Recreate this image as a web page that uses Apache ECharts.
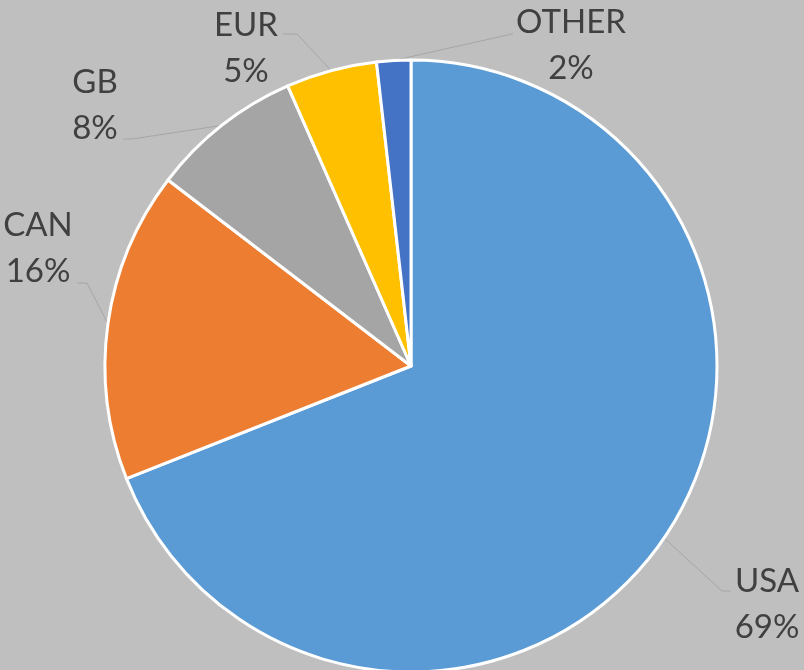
<!DOCTYPE html>
<html>
<head>
<meta charset="utf-8">
<script src="https://cdn.jsdelivr.net/npm/echarts@6/dist/echarts.min.js"></script>
<style>
  html, body { margin: 0; padding: 0; background: #bfbfbf; }
  #chart { width: 804px; height: 670px; }
</style>
</head>
<body>
<div id="chart"></div>
<script>
// 数据
var categories = ['USA', 'CAN', 'GB', 'EUR', 'OTHER'];
var shares = [69.0, 16.4, 8.0, 4.8, 1.8];
var colors = ['#5b9bd5', '#ed7d31', '#a5a5a5', '#ffc000', '#4472c4'];

// 标签位置 (Excel 式手动摆放)
var labelPos = [[767, 604], [38, 248], [95, 105], [246, 48], [571, 45]];
var lineBend = [[722, 591], [87, 283], [132, 139], [297, 34], [512, 34]];
var lineEnd = [[731, 591], [77, 283], [123, 139], [283, 34], [513, 34]];

(function () {
    var myChart = echarts.init(document.getElementById('chart'));
    var option = {
        backgroundColor: '#bfbfbf',
        color: colors,
        series: [
            {
                type: 'pie',
                center: [411, 366],
                radius: 306,
                startAngle: 90,
                avoidLabelOverlap: false,
                percentPrecision: 0,
                data: categories.map(function (c, i) {
                    return { name: c, value: shares[i] };
                }),
                itemStyle: {
                    borderColor: '#ffffff',
                    borderWidth: 3
                },
                label: {
                    position: 'outside',
                    formatter: '{b}\n{d}%',
                    color: '#404040',
                    fontFamily: 'Lato',
                    fontSize: 33,
                    lineHeight: 46,
                    align: 'center'
                },
                labelLine: {
                    show: true,
                    length: 20,
                    length2: 10,
                    lineStyle: {
                        color: '#a6a6a6',
                        width: 1
                    }
                },
                labelLayout: function (params) {
                    var i = params.dataIndex;
                    var start = params.labelLinePoints ? params.labelLinePoints[0] : lineBend[i];
                    return {
                        x: labelPos[i][0],
                        y: labelPos[i][1],
                        align: 'center',
                        verticalAlign: 'middle',
                        labelLinePoints: [start, lineBend[i], lineEnd[i]]
                    };
                }
            }
        ]
    };
    myChart.setOption(option);
    window.addEventListener('resize', function () {
        myChart.resize();
    });
})();
</script>
</body>
</html>
